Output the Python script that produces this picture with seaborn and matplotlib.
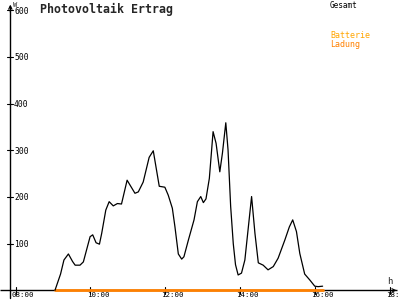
import matplotlib
matplotlib.use("Agg")
import matplotlib.pyplot as plt
import seaborn as sns
import pandas as pd

# ---- data ----
hours = [9.05, 9.20, 9.29, 9.41, 9.52, 9.59, 9.72, 9.81, 9.99, 10.06, 10.15, 10.24,
         10.30, 10.41, 10.50, 10.61, 10.72, 10.83, 10.98, 11.19, 11.28, 11.41, 11.57,
         11.68, 11.84, 11.99, 12.08, 12.19, 12.26, 12.35, 12.44, 12.50, 12.62, 12.77,
         12.86, 12.95, 13.02, 13.09, 13.18, 13.28, 13.36, 13.46, 13.53, 13.62, 13.68,
         13.75, 13.82, 13.88, 13.95, 14.04, 14.13, 14.31, 14.40, 14.49, 14.62, 14.75,
         14.89, 15.02, 15.20, 15.32, 15.41, 15.51, 15.60, 15.73, 15.87, 16.00, 16.09,
         16.21]
gesamt = [0, 35, 65, 78, 62, 54, 54, 61, 115, 119, 102, 99,
          122, 172, 190, 181, 186, 185, 236, 208, 211, 232, 285,
          299, 223, 221, 204, 176, 136, 78, 67, 72, 108, 151,
          190, 201, 188, 196, 240, 340, 315, 254, 294, 359, 301,
          180, 100, 55, 33, 37, 65, 201, 122, 59, 54, 44,
          51, 69, 108, 136, 151, 126, 79, 35, 22, 9, 8,
          9]
ladung = [0] * len(hours)

x_ticks = [8, 10, 12, 14, 16, 18]
x_tick_labels = ["08:00", "10:00", "12:00", "14:00", "16:00", "18:00"]
y_ticks = [100, 200, 300, 400, 500, 600]
y_tick_labels = ["100", "200", "300", "400", "500", "600"]
title = "Photovoltaik Ertrag"
legend_labels = ["Gesamt", "Batterie", "Ladung"]

df = pd.DataFrame({"h": hours, "gesamt": gesamt, "ladung": ladung})

# ---- figure ----
sns.set_style("white")
plt.rcParams['font.family'] = ['DejaVu Sans Mono', 'DejaVu Sans']
fig = plt.figure(figsize=(4, 3), dpi=100)
ax = fig.add_axes([0, 0, 1, 1])
ax.set_xlim(7.58, 18.28)
ax.set_ylim(-20.6, 622)
for s in ax.spines.values():
    s.set_visible(False)
ax.set_xticks([])
ax.set_yticks([])

yaxis_x = 7.856
# axes lines with arrows
ax.plot([7.58, 18.2], [0, 0], color="black", lw=1, solid_capstyle="butt")
ax.annotate("", xy=(18.26, 0), xytext=(18.05, 0),
            arrowprops=dict(arrowstyle="->", color="black", lw=0.8, mutation_scale=6))
ax.plot([yaxis_x, yaxis_x], [-17, 610], color="black", lw=1)
ax.annotate("", xy=(yaxis_x, 618), xytext=(yaxis_x, 590),
            arrowprops=dict(arrowstyle="->", color="black", lw=0.8, mutation_scale=6))

# ticks
for t, lab in zip(x_ticks, x_tick_labels):
    ax.plot([t, t], [-7, 7], color="black", lw=0.8)
    ax.text(t - 0.1, -4, lab, fontsize=5.4, ha="left", va="top", color="black")
for v, lab in zip(y_ticks, y_tick_labels):
    ax.plot([yaxis_x - 0.08, yaxis_x + 0.08], [v, v], color="black", lw=0.8)
    ax.text(yaxis_x + 0.1, v - 2, lab, fontsize=5.8, ha="left", va="center", color="black")

ax.text(yaxis_x + 0.06, 612, "W", fontsize=5, ha="left", va="center")
ax.text(18.02, 18, "h", fontsize=6.5, ha="center", va="center")

# data
sns.lineplot(data=df, x="h", y="ladung", color="#ff8000", lw=2, ax=ax,
             estimator=None, sort=False, legend=False)
sns.lineplot(data=df, x="h", y="gesamt", color="black", lw=0.9, ax=ax,
             estimator=None, sort=False, legend=False)
ax.set_xlabel("")
ax.set_ylabel("")

# title and legend
fig.text(40 / 400, 1 - 9 / 300, title, fontsize=8.4, fontweight="bold",
         ha="left", va="center")
fig.text(330 / 400, 1 - 5 / 300, legend_labels[0], fontsize=5.6, color="black",
         ha="left", va="center")
fig.text(330 / 400, 1 - 36 / 300, legend_labels[1], fontsize=6, color="#ffa500",
         ha="left", va="center")
fig.text(330 / 400, 1 - 44 / 300, legend_labels[2], fontsize=6, color="#ff8000",
         ha="left", va="center")

fig.savefig("out.png", dpi=100)
